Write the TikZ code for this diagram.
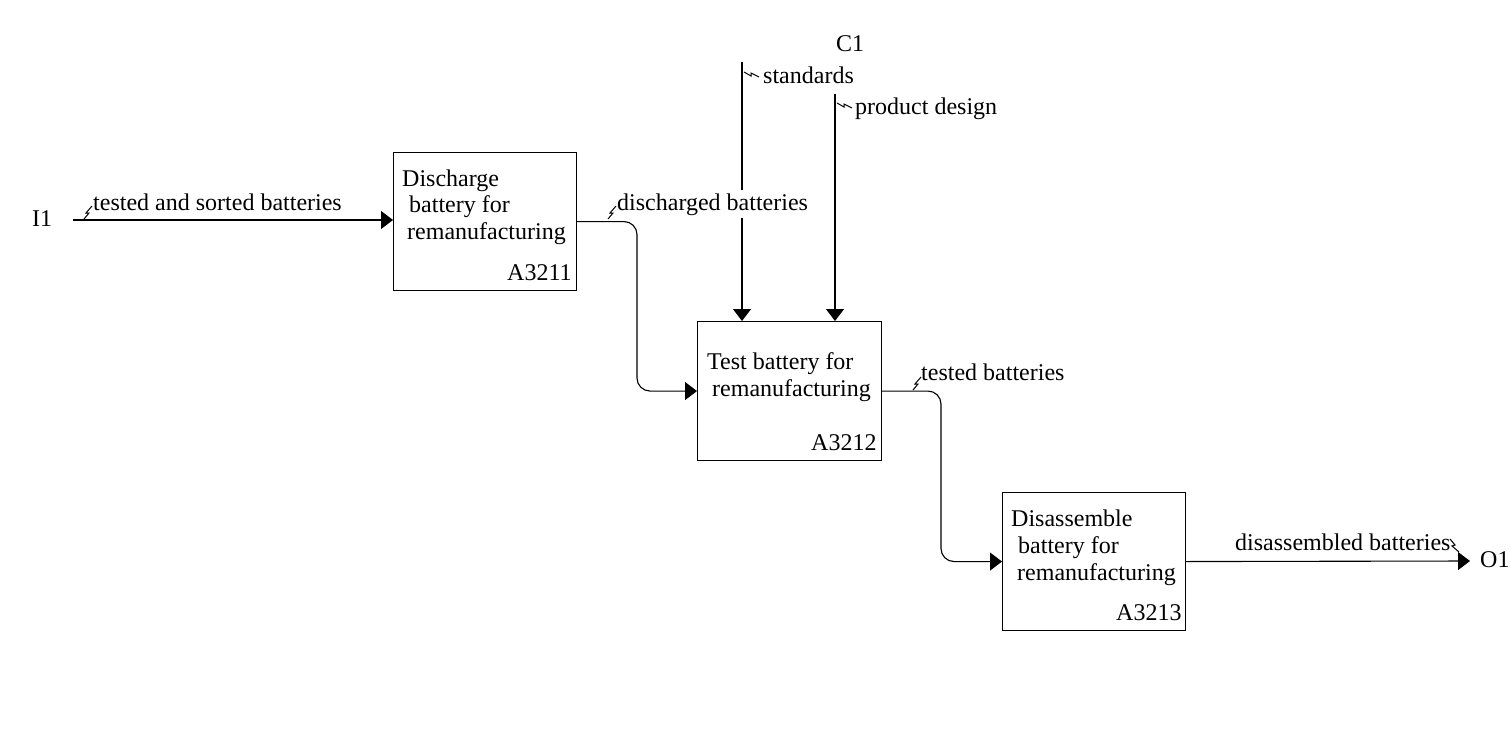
\documentclass[tikz,border=0pt]{standalone}
\usepackage{fontspec}
\setmainfont{Liberation Serif}
\usetikzlibrary{arrows.meta,calc}
\begin{document}
\begin{tikzpicture}[x=1pt,y=-1pt,
  box/.style={draw,line width=1.1pt,minimum width=#1,inner sep=0pt,anchor=north west},
  txt/.style={anchor=base west,inner sep=0pt,font=\fontsize{24}{28}\selectfont},
  flow/.style={line width=1.1pt,-{Triangle[length=12pt,width=18pt]}},
  squig/.style={line width=1pt}]
\useasboundingbox (0,0) rectangle (1511,752);
% boxes
\node[box=183pt,minimum height=138pt] (b1) at (393,152) {};
\node[box=184pt,minimum height=139pt] (b2) at (697,321) {};
\node[box=183pt,minimum height=138pt] (b3) at (1002,492) {};
% free ends
\coordinate (i1end) at (73,220);
\coordinate (s1) at (742,62);
\coordinate (s2) at (835,94);
\coordinate (j1) at (637,0);
\coordinate (j2) at (941,0);
\coordinate (o1end) at (1470,561);
% connectors
\draw[flow] (i1end) -- (i1end -| b1.west);
\draw[flow] (s1) -- (s1 |- b2.north);
\draw[flow] (s2) -- (s2 |- b2.north);
\draw[flow,rounded corners=13pt] (b1.east) -| (j1 |- b2.west) -- (b2.west);
\draw[flow,rounded corners=13pt] (b2.east) -| (j2 |- b3.west) -- (b3.west);
\draw[flow] (b3.east) -- (o1end);
% box texts
\node[txt] (t1a) at (402,186) {Discharge};
\node[txt] (t1b) at (409,212) {battery for};
\node[txt] (t1c) at (407,239) {remanufacturing};
\node[txt] (n1) at (507,280) {A3211};
\node[txt] (t2a) at (707,369) {Test battery for};
\node[txt] (t2b) at (712,396) {remanufacturing};
\node[txt] (n2) at (811,450) {A3212};
\node[txt] (t3a) at (1011,526) {Disassemble};
\node[txt] (t3b) at (1018,553) {battery for};
\node[txt] (t3c) at (1017,580) {remanufacturing};
\node[txt] (n3) at (1116,620) {A3213};
% boundary labels
\node[txt] (i1) at (32,226) {I1};
\node[txt] (c1) at (836,52) {C1};
\node[txt] (o1) at (1480,567) {O1};
% arrow labels
\node[txt] (l1) at (93,210) {tested and sorted batteries};
\node[txt,fill=white,inner ysep=3pt] (l2) at (617,210) {discharged batteries};
\node[txt] (l3) at (763,83) {standards};
\node[txt] (l4) at (855,114) {product design};
\node[txt] (l5) at (921,380) {tested batteries};
\node[txt] (l6) at (1235,550) {disassembled batteries};
% squiggles
\draw[squig] (84,219) -- ++(5,-6) -- ++(-3,0) -- ++(6,-7);
\draw[squig] (608,219) -- ++(5,-6) -- ++(-3,0) -- ++(6,-7);
\draw[squig] (913,390) -- ++(5,-6) -- ++(-3,0) -- ++(6,-7);
\draw[squig] (744,72) -- ++(7,4) -- ++(0,-3) -- ++(8,4);
\draw[squig] (837,103) -- ++(7,4) -- ++(0,-3) -- ++(8,4);
\draw[squig] (1450,539) -- ++(5,6) -- ++(-3,1) -- ++(7,6);
\end{tikzpicture}
\end{document}
